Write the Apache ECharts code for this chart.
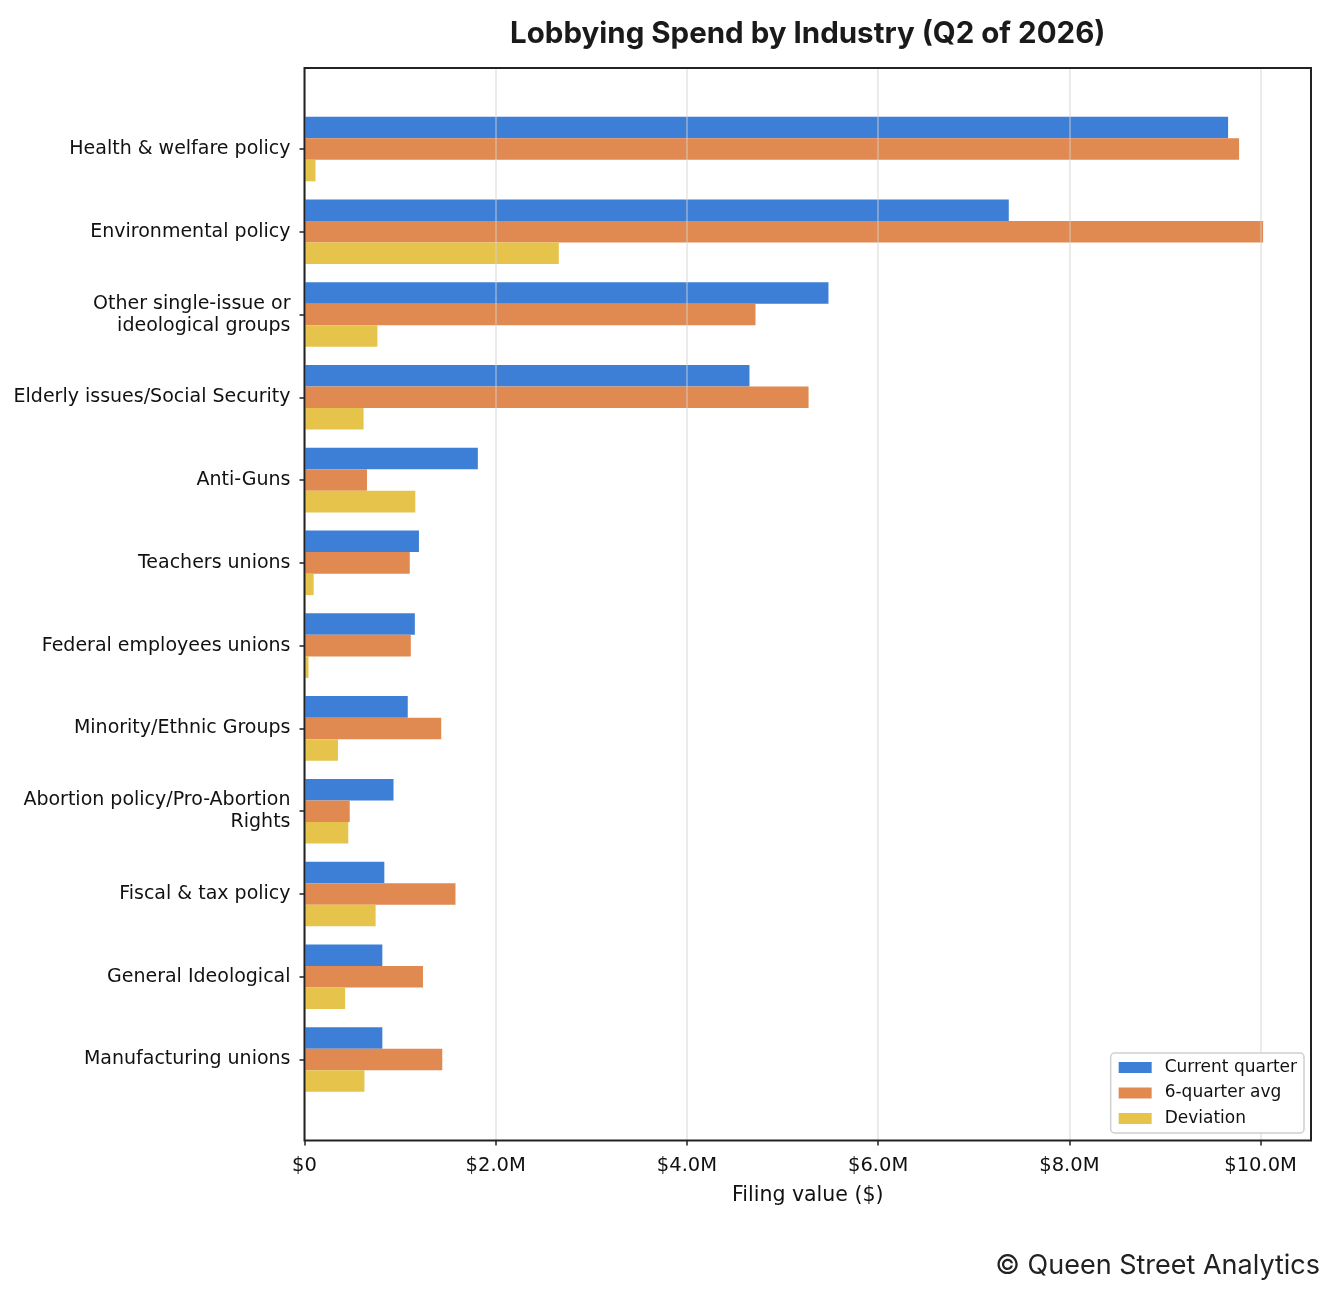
<!DOCTYPE html>
<html>
<head>
<meta charset="utf-8">
<script src="https://cdn.jsdelivr.net/npm/echarts@6/dist/echarts.min.js"></script>
<style>
html,body{margin:0;padding:0;background:#fff;}
#chart{width:1335px;height:1297px;}
</style>
</head>
<body>
<div id="chart"></div>
<script>
// Data (values in millions of dollars)
const categories = [
  'Health & welfare policy',
  'Environmental policy',
  'Other single-issue or\nideological groups',
  'Elderly issues/Social Security',
  'Anti-Guns',
  'Teachers unions',
  'Federal employees unions',
  'Minority/Ethnic Groups',
  'Abortion policy/Pro-Abortion\nRights',
  'Fiscal & tax policy',
  'General Ideological',
  'Manufacturing unions'
];
const currentQuarter = [9.66, 7.366, 5.48, 4.654, 1.813, 1.197, 1.154, 1.080, 0.931, 0.835, 0.814, 0.814];
const sixQuarterAvg = [9.775, 10.026, 4.717, 5.272, 0.654, 1.101, 1.112, 1.430, 0.473, 1.579, 1.239, 1.441];
const deviation = [0.115, 2.66, 0.763, 0.618, 1.159, 0.096, 0.042, 0.350, 0.458, 0.744, 0.425, 0.627];
const seriesNames = ['Current quarter', '6-quarter avg', 'Deviation'];

const W = 1335, H = 1297;
const plotLeft = 304.5, plotRight = 1311, plotTop = 68, plotBottom = 1140.5;
const unit = (plotBottom - plotTop) / 12.958;
const firstCenter = plotTop + 0.979 * unit;
const innerTop = firstCenter - unit / 2;
const innerBottom = innerTop + 12 * unit;
const barW = 0.26 * unit;
const xMax = 10.527;

const colors = ['#3d7fd6', '#e08950', '#e6c44c'];
const fmt = v => v === 0 ? '$0' : '$' + v.toFixed(1) + 'M';

const chart = echarts.init(document.getElementById('chart'), null, {renderer: 'canvas'});
const labelFont = 'DejaVu Sans';
chart.setOption({
  animation: false,
  backgroundColor: '#fff',
  grid: [
    {left: plotLeft, right: W - plotRight, top: plotTop, bottom: H - plotBottom,
     show: true, borderColor: '#222', borderWidth: 2, backgroundColor: 'transparent', z: 10},
    {left: plotLeft, right: W - plotRight, top: innerTop, bottom: H - innerBottom}
  ],
  xAxis: [
    {type: 'value', gridIndex: 0, min: 0, max: xMax, interval: 2, z: 3,
     axisLine: {show: false},
     axisTick: {show: true, length: 5, lineStyle: {color: '#222', width: 1.5}},
     axisLabel: {formatter: fmt, color: '#111', fontFamily: labelFont, fontSize: 19.5, margin: 15,
                 showMaxLabel: false},
     splitLine: {show: true, lineStyle: {color: 'rgba(210,210,210,0.6)', width: 1.5}},
     name: 'Filing value ($)', nameLocation: 'middle', nameGap: 45,
     nameTextStyle: {color: '#111', fontFamily: labelFont, fontSize: 20.5}},
    {type: 'value', gridIndex: 1, min: 0, max: xMax, show: false}
  ],
  yAxis: [
    {type: 'value', gridIndex: 0, show: false, min: 0, max: 1},
    {type: 'category', gridIndex: 1, data: categories, inverse: true,
     axisLine: {show: false},
     axisTick: {show: true, alignWithLabel: true, length: 5, lineStyle: {color: '#222', width: 1.5}},
     axisLabel: {color: '#111', fontFamily: labelFont, fontSize: 19, margin: 14, lineHeight: 22,
                 align: 'right', padding: [6, 0, 0, 0]},
     splitLine: {show: false}}
  ],
  legend: {
    orient: 'vertical', right: 31, bottom: 164,
    data: seriesNames,
    icon: 'rect', itemWidth: 33, itemHeight: 11, itemGap: 8.5,
    backgroundColor: '#fff', borderColor: '#d0d0d0', borderWidth: 1.5, borderRadius: 4,
    padding: [6, 7, 6, 8],
    textStyle: {fontFamily: labelFont, fontSize: 17, color: '#111', padding: [0, 0, 0, 8], lineHeight: 17}
  },
  graphic: [
    {type: 'text', x: (plotLeft + plotRight) / 2, y: 34,
     style: {text: 'Lobbying Spend by Industry (Q2 of 2026)', font: 'bold 29.5px Inter', fill: '#1a1a1a',
             textAlign: 'center', textVerticalAlign: 'middle'}},
    {type: 'text', x: 1320, y: 1266,
     style: {text: '\u00a9 Queen Street Analytics', font: '27px Inter', fill: '#222',
             textAlign: 'right', textVerticalAlign: 'middle'}}
  ],
  series: [currentQuarter, sixQuarterAvg, deviation].map((d, i) => ({
    name: seriesNames[i], type: 'bar', xAxisIndex: 1, yAxisIndex: 1,
    data: d, barWidth: barW, barGap: '0%',
    itemStyle: {color: colors[i]}
  }))
});
</script>
</body>
</html>
